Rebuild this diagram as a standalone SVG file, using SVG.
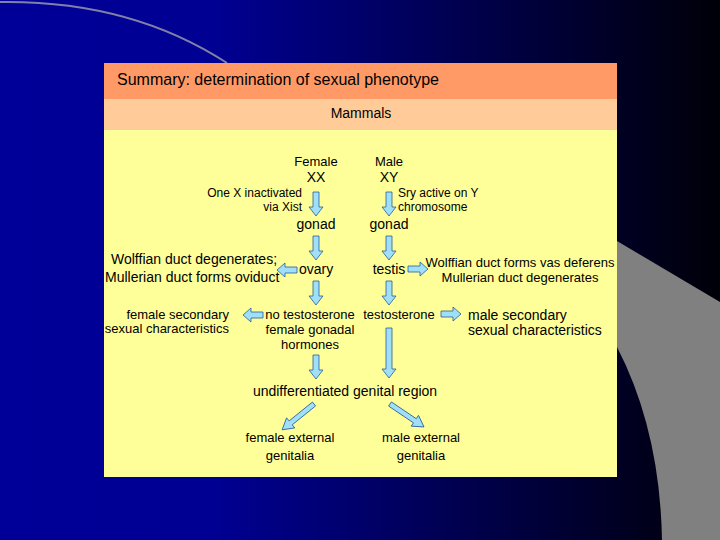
<svg xmlns="http://www.w3.org/2000/svg" width="720" height="540" viewBox="0 0 720 540">
<defs>
<linearGradient id="bg" x1="0" y1="0" x2="1" y2="0">
<stop offset="0" stop-color="#000099"/>
<stop offset="0.3" stop-color="#000092"/>
<stop offset="1" stop-color="#000008"/>
</linearGradient>
<path id="da" d="M-3,0 H3 V15 H7 L0,24 L-7,15 H-3 Z"/>
<path id="ha" d="M-3,0 H3 V12 H7 L0,20 L-7,12 H-3 Z"/>
<path id="la" d="M-3,0 H3 V41 H7 L0,50 L-7,41 H-3 Z"/>
<path id="ga" d="M-2.5,0 H2.5 V30 H6.5 L0,41 L-6.5,30 H-2.5 Z"/>
</defs>
<style>
text{font-family:"Liberation Sans",Arial,sans-serif;fill:#000}
.x{font-size:12px}
.s{font-size:13px}
.m{font-size:14px}
.c{text-anchor:middle}
.r{text-anchor:end}
.arr{fill:#9fe0f8;stroke:#2a5a9a;stroke-width:0.8}
</style>
<rect width="720" height="540" fill="url(#bg)"/>
<path d="M0,2 Q130,0 227,63" fill="none" stroke="#8080a8" stroke-width="2"/>
<path d="M617,241 L720,302 V540 H662 Q660,430 617,347 Z" fill="#808080"/>
<g id="panel">
<rect x="104" y="63" width="513" height="414" fill="#ffff99"/>
<rect x="104" y="63" width="513" height="36" fill="#ff9966"/>
<rect x="104" y="99" width="513" height="31" fill="#ffcc99"/>
<text x="117" y="85" style="font-size:16px">Summary: determination of sexual phenotype</text>
<text x="361" y="118" class="m c">Mammals</text>
</g>
<g id="connectors" class="arr">
<use href="#da" transform="translate(316,192)"/>
<use href="#da" transform="translate(389,192)"/>
<use href="#da" transform="translate(316,236)"/>
<use href="#da" transform="translate(389,236)"/>
<use href="#ha" transform="translate(297,270) rotate(90)"/>
<use href="#ha" transform="translate(408,269) rotate(-90)"/>
<use href="#da" transform="translate(316,281)"/>
<use href="#da" transform="translate(389,281)"/>
<use href="#ha" transform="translate(263,315) rotate(90)"/>
<use href="#ha" transform="translate(441,314) rotate(-90)"/>
<use href="#da" transform="translate(316,355)"/>
<use href="#la" transform="translate(389,328)"/>
<use href="#ga" transform="translate(314,404) rotate(51)"/>
<use href="#ga" transform="translate(390,404) rotate(-56)"/>
</g>
<g id="female"><text x="316" y="166" class="s c">Female</text><text x="316" y="182" class="m c">XX</text></g>
<g id="male"><text x="389" y="166" class="s c">Male</text><text x="389" y="182" class="m c">XY</text></g>
<g id="xist"><text x="302" y="197" class="x r">One X inactivated</text><text x="302" y="211" class="x r">via Xist</text></g>
<g id="sry"><text x="398" y="197" class="x">Sry active on Y</text><text x="398" y="211" class="x">chromosome</text></g>
<g id="gonad-f"><text x="316" y="229" class="m c">gonad</text></g>
<g id="gonad-m"><text x="389" y="229" class="m c">gonad</text></g>
<g id="wolffian-f"><text x="111" y="264" class="m">Wolffian duct degenerates;</text><text x="105" y="282" class="m">Mullerian duct forms oviduct</text></g>
<g id="ovary"><text x="299" y="274" class="m">ovary</text></g>
<g id="testis"><text x="389" y="274" class="m c">testis</text></g>
<g id="wolffian-m"><text x="520" y="267" class="s c">Wolffian duct forms vas deferens</text><text x="520" y="282" class="s c">Mullerian duct degenerates</text></g>
<g id="female-sec"><text x="229" y="319" class="s r">female secondary</text><text x="229" y="333" class="s r">sexual characteristics</text></g>
<g id="no-testosterone"><text x="310" y="319" class="s c">no testosterone</text><text x="310" y="334" class="s c">female gonadal</text><text x="310" y="349" class="s c">hormones</text></g>
<g id="testosterone"><text x="399" y="319" class="s c">testosterone</text></g>
<g id="male-sec"><text x="468" y="320" class="m">male secondary</text><text x="468" y="335" class="m">sexual characteristics</text></g>
<g id="undiff"><text x="345" y="396" class="m c">undifferentiated genital region</text></g>
<g id="female-ext"><text x="290" y="442" class="s c">female external</text><text x="290" y="460" class="s c">genitalia</text></g>
<g id="male-ext"><text x="421" y="442" class="s c">male external</text><text x="421" y="460" class="s c">genitalia</text></g>
</svg>
